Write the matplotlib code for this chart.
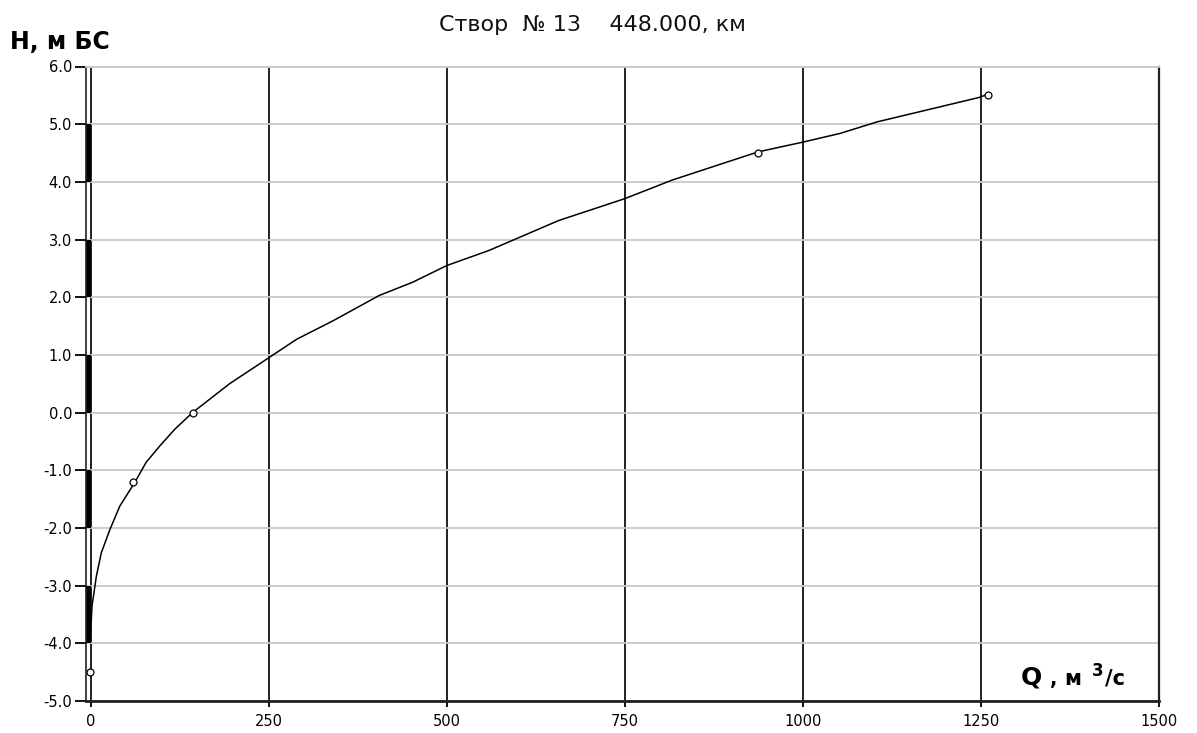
import matplotlib
matplotlib.use('Agg')
import matplotlib.pyplot as plt

plt.rcParams['font.family'] = ['DejaVu Sans']

# measured points (Q, H)
q_obs = [-1, 60, 143, 937, 1260]
h_obs = [-4.5, -1.2, 0.0, 4.5, 5.5]

# rating curve
q_curve = [0, 2, 8, 15, 27, 41, 62, 78, 97, 118, 143, 195, 250, 289, 340,
           405, 452, 500, 559, 657, 750, 816, 890, 937, 1000, 1052, 1104,
           1246, 1260]
h_curve = [-3.8, -3.35, -2.84, -2.43, -2.03, -1.62, -1.21, -0.86, -0.58,
           -0.29, 0.0, 0.5, 0.95, 1.27, 1.59, 2.03, 2.26, 2.55, 2.81, 3.33,
           3.71, 4.03, 4.33, 4.52, 4.69, 4.84, 5.04, 5.46, 5.52]

x_ticks = [0, 250, 500, 750, 1000, 1250, 1500]
y_ticks = [-5, -4, -3, -2, -1, 0, 1, 2, 3, 4, 5, 6]
y_labels = ['%.1f' % v for v in y_ticks]
# filled pieces of the scale bar on the left axis
bar_pieces = [(4, 5), (2, 3), (0, 1), (-2, -1), (-4, -3)]

W, H = 1197, 733
fig = plt.figure(figsize=(W / 100, H / 100), dpi=100)
ax = fig.add_axes([86 / W, 1 - 701 / H, (1159.3 - 86) / W, (701 - 66.5) / H])

ax.set_xlim(-6.5, 1500)
ax.set_ylim(-5, 6)

ax.set_yticks(y_ticks)
ax.set_yticklabels(y_labels)
ax.set_xticks(x_ticks)
ax.set_xticklabels([str(v) for v in x_ticks])

ax.yaxis.grid(True, color='#c8c8c8', lw=1.3)
ax.xaxis.grid(True, color='#202020', lw=1.4)
ax.set_axisbelow(True)

for a, b in bar_pieces:
  ax.fill_betweenx([a, b], -6.5, 0, color='black', lw=0)

ax.plot(q_curve, h_curve, color='black', lw=1.1, zorder=3)
ax.plot(q_obs, h_obs, 'o', ms=5, mfc='white', mec='black', mew=0.9, zorder=4)

ax.spines['top'].set_color('#c8c8c8')
ax.spines['top'].set_linewidth(1.3)
ax.spines['right'].set_color('#202020')
ax.spines['right'].set_linewidth(1.6)
ax.spines['bottom'].set_color('#202020')
ax.spines['bottom'].set_linewidth(2)
ax.spines['left'].set_color('#202020')
ax.spines['left'].set_linewidth(1.2)

ax.tick_params(axis='y', length=8, width=1.3, pad=2, labelsize=10.5, direction='out')
ax.tick_params(axis='x', length=4, width=1.3, pad=5, labelsize=10.5, direction='out')

fig.text(592 / W, 1 - 31 / H, 'Створ  № 13    448.000, км', ha='center', va='baseline',
         fontsize=16, color='#111111')
fig.text(10 / W, 1 - 49 / H, 'Н, м БС', ha='left', va='baseline', fontsize=17,
         fontweight='bold')
fig.text(1021 / W, 1 - 685 / H, 'Q', ha='left', va='baseline', fontsize=18,
         fontweight='bold')
fig.text(1050 / W, 1 - 685 / H, ',', ha='left', va='baseline', fontsize=14,
         fontweight='bold')
fig.text(1064 / W, 1 - 685 / H, 'м', ha='left', va='baseline', fontsize=15,
         fontweight='bold')
fig.text(1092 / W, 1 - 676 / H, '3', ha='left', va='baseline', fontsize=12,
         fontweight='bold')
fig.text(1105 / W, 1 - 685 / H, '/с', ha='left', va='baseline', fontsize=15,
         fontweight='bold')

fig.savefig('out.png', dpi=100)
